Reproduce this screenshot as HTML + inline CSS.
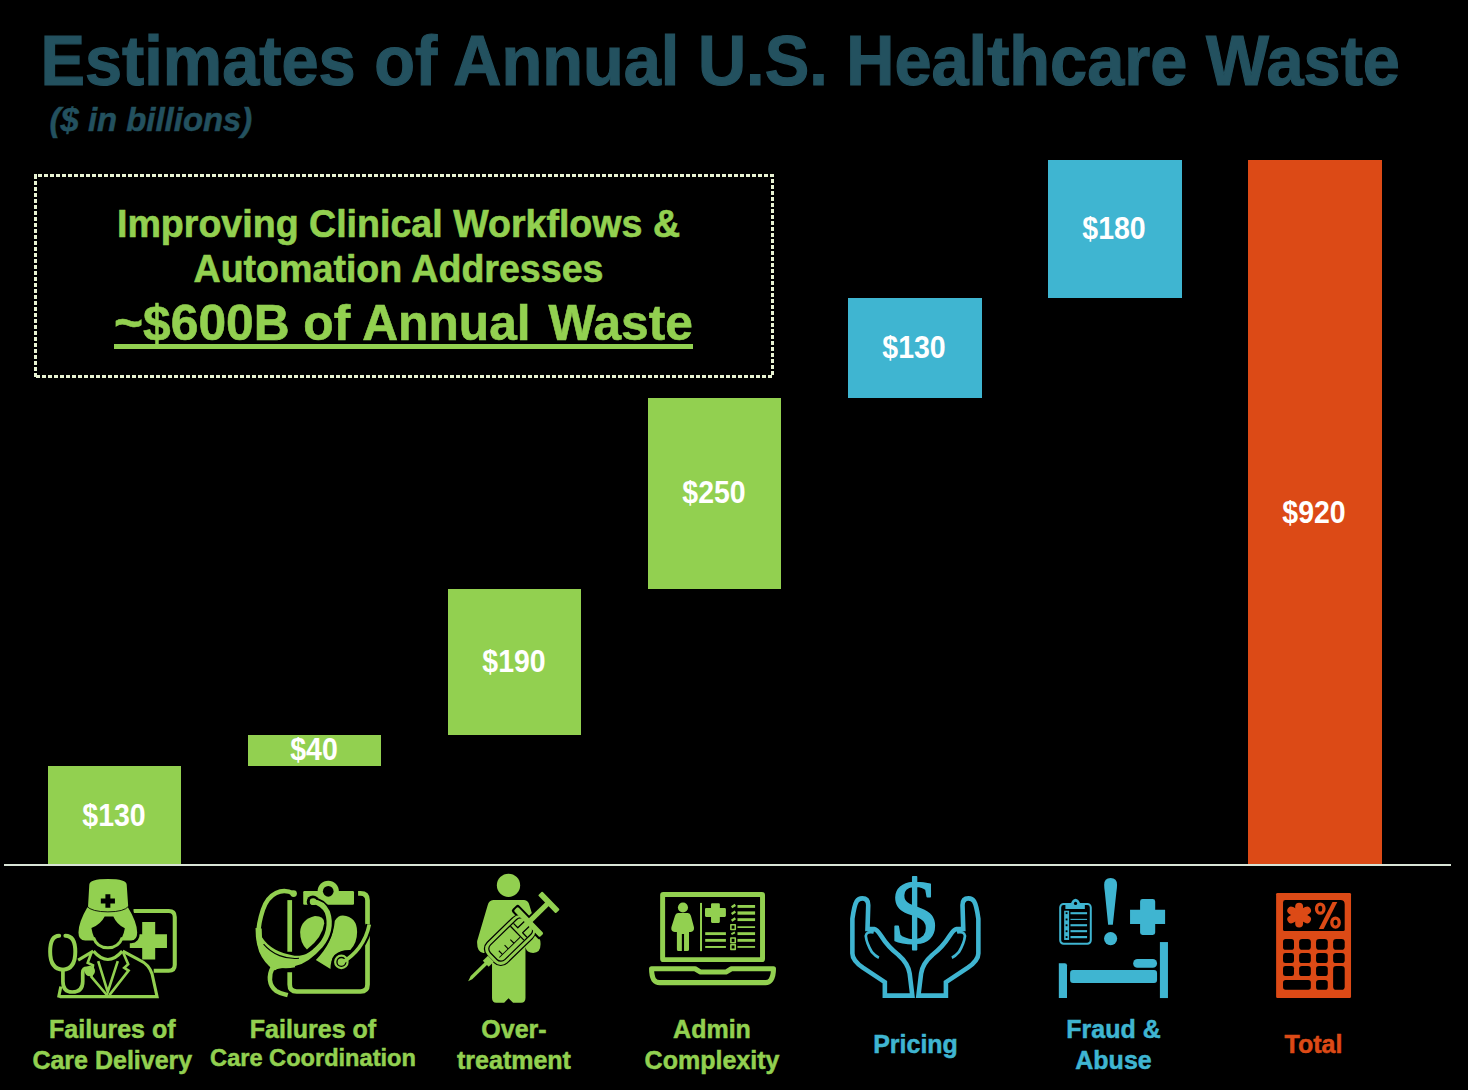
<!DOCTYPE html>
<html><head><meta charset="utf-8">
<style>
html,body{margin:0;padding:0;background:#000;}
body{width:1468px;height:1090px;position:relative;overflow:hidden;font-family:"Liberation Sans",sans-serif;font-weight:bold;}
.abs{position:absolute;white-space:nowrap;transform-origin:0 0;}
.bar{position:absolute;}
.g{background:#92d050;}
.b{background:#3fb5d1;}
.o{background:#dc4a16;}
.val{position:absolute;color:#fff;font-size:28.5px;text-align:center;width:134px;line-height:32px;height:32px;transform:scaleY(1.07);transform-origin:50% 50%;}
.lab{position:absolute;font-size:25px;line-height:29.5px;text-align:center;width:240px;white-space:nowrap;transform:scaleY(1.02);transform-origin:50% 0;}
.cg{color:#92d050;-webkit-text-stroke:0.5px #92d050;}
.cb{color:#3fb5d1;-webkit-text-stroke:0.5px #3fb5d1;}
.co{color:#dc4a16;-webkit-text-stroke:0.5px #dc4a16;}
#title{left:40.5px;top:22px;font-size:66.72px;line-height:72px;color:#23515f;-webkit-text-stroke:1.1px #23515f;transform:scaleY(1.065);}
#sub{left:49.5px;top:102.3px;font-size:32.9px;line-height:36px;color:#23515f;-webkit-text-stroke:0.5px #23515f;font-style:italic;}
.bt{-webkit-text-stroke:0.6px #92d050;position:absolute;left:29px;width:739px;text-align:center;color:#92d050;white-space:nowrap;transform-origin:50% 0;}
svg{position:absolute;overflow:visible;}
</style></head><body>
<div class="abs" id="title">Estimates of Annual U.S. Healthcare Waste</div>
<div class="abs" id="sub">($ in billions)</div>
<svg id="box" style="left:0;top:0;" width="800" height="400" shape-rendering="crispEdges">
<g stroke="#e9f3d3" stroke-width="3" fill="none">
<path d="M34 175.5H37"/><path d="M38 175.5H774" stroke-dasharray="4 2"/>
<path d="M35.5 174V179"/><path d="M35.5 181V378" stroke-dasharray="4 2"/>
<path d="M772.5 375V174" stroke-dasharray="4 2"/>
<path d="M772 376.5H34" stroke-dasharray="4 2"/>
</g></svg>
<div class="bt" style="top:199.5px;font-size:37.6px;line-height:44px;transform:scaleY(1.05);">Improving Clinical Workflows &amp;</div>
<div class="bt" style="top:245px;font-size:37.6px;line-height:44px;transform:scaleY(1.05);">Automation Addresses</div>
<div class="bt" style="left:34px;top:294.6px;font-size:49.7px;line-height:56px;white-space:pre;"><span id="l3">~$600B of Annual<span style="margin-left:4px"> </span>Waste</span></div>
<div class="bar g" style="left:114px;top:344px;width:579px;height:5px;"></div>

<div class="bar g" style="left:48px;top:766px;width:133px;height:98px;"></div>
<div class="bar g" style="left:248px;top:735px;width:133px;height:31px;"></div>
<div class="bar g" style="left:448px;top:589px;width:133px;height:146px;"></div>
<div class="bar g" style="left:648px;top:398px;width:133px;height:191px;"></div>
<div class="bar b" style="left:848px;top:298px;width:134px;height:100px;"></div>
<div class="bar b" style="left:1048px;top:160px;width:134px;height:138px;"></div>
<div class="bar o" style="left:1248px;top:160px;width:134px;height:704px;"></div>
<div class="bar" style="left:4px;top:864px;width:1447px;height:2px;background:#d9e4d6;"></div>

<div class="val" style="left:47px;top:799px;">$130</div>
<div class="val" style="left:247px;top:733px;">$40</div>
<div class="val" style="left:447px;top:645px;">$190</div>
<div class="val" style="left:647px;top:476px;">$250</div>
<div class="val" style="left:847px;top:331px;">$130</div>
<div class="val" style="left:1047px;top:212px;">$180</div>
<div class="val" style="left:1247px;top:496px;">$920</div>

<div class="lab cg" style="left:-7.7px;top:1015px;">Failures of<br>Care Delivery</div>
<div class="lab cg" style="left:193px;top:1015px;">Failures of<br><span style="font-size:23.6px;position:relative;top:-2.5px;">Care Coordination</span></div>
<div class="lab cg" style="left:394px;top:1015px;">Over-<br>treatment</div>
<div class="lab cg" style="left:592px;top:1015px;">Admin<br>Complexity</div>
<div class="lab cb" style="left:795.5px;top:1030px;">Pricing</div>
<div class="lab cb" style="left:993.5px;top:1015px;">Fraud &amp;<br>Abuse</div>
<div class="lab co" style="left:1193.5px;top:1030px;">Total</div>
<svg style="left:0;top:0" width="1468" height="1090"><g transform="translate(40,870) scale(0.12387)" fill="#92d050" stroke="none" stroke-linejoin="round">
<!-- med box -->
<path d="M755 331 H1040 Q1088 331 1088 379 V765 Q1088 813 1040 813 H918" fill="none" stroke="#92d050" stroke-width="33"/>
<path d="M825 420H930V518H1025V630H930V722H825V630H725V518H825Z"/>
<!-- coat -->
<g fill="none" stroke="#92d050" stroke-width="25" stroke-linejoin="miter">
<path d="M160 1022 H945 L905 840 Q880 760 800 725 L668 655"/>
<path d="M430 655 L308 728"/>
<path d="M150 1030 L168 940"/>
<path d="M432 655 Q548 790 664 655" stroke-width="26"/>
<path d="M470 735 L547 985 L628 735" stroke-width="21"/>
<path d="M415 668 L385 750 L428 770 L415 862 L545 1015" stroke-width="21"/>
<path d="M672 668 L712 760 L680 790 L715 812 L560 1010" stroke-width="21"/>
</g>
<!-- hair -->
<path d="M378 288 Q300 420 300 505 Q300 580 365 580 H735 Q795 580 795 505 Q795 420 714 288 Z" stroke="#000" stroke-width="21"/>
<!-- face -->
<path d="M415 468 Q490 440 522 375 H592 Q620 440 685 470 Q670 560 620 595 Q585 622 548 622 Q510 622 475 595 Q430 560 415 468Z" fill="#000"/>
<path d="M432 545 Q460 628 548 628 Q635 628 665 545" fill="none" stroke="#92d050" stroke-width="24"/>
<!-- hat -->
<path d="M398 120 Q398 72 548 72 Q700 72 700 120 L712 292 Q712 335 548 335 Q388 335 388 292 Z"/>
<path d="M376 292 Q420 338 548 338 Q680 338 716 292" fill="none" stroke="#000" stroke-width="7"/>
<path d="M528 195H568V230H605V270H568V305H528V270H491V230H528Z" fill="#000"/>
<!-- stethoscope -->
<g fill="none" stroke="#92d050" stroke-width="32" stroke-linecap="round">
<path d="M155 530 Q82 530 82 660 Q82 800 185 805 Q285 800 285 660 Q285 530 205 530"/>
<path d="M185 805 V900 Q185 985 260 985 Q345 985 345 900 V830 Q345 790 385 795" stroke-width="30"/>
</g>
<circle cx="402" cy="815" r="42"/>
</g></svg>
<svg style="left:0;top:0" width="1468" height="1090"><g transform="translate(245,870) scale(0.12387)" fill="#92d050" stroke="none" stroke-linejoin="round">
<!-- clipboard outline -->
<g fill="none" stroke="#92d050" stroke-width="38">
<path d="M361 243 V660"/>
<path d="M361 825 V925 Q361 981 417 981 H933 Q989 981 989 925 V245 Q989 189 933 189 H913"/>
</g>
<!-- clip -->
<circle cx="672" cy="172" r="86"/>
<path d="M470 180 Q470 170 480 170 H870 Q880 170 880 180 V270 Q880 280 870 280 H480 Q470 280 470 270Z"/>
<circle cx="672" cy="172" r="43" fill="#000"/>
<!-- lobes -->
<path d="M565 372 Q640 372 640 430 Q625 545 500 642 Q445 590 445 500 Q452 400 565 372Z"/>
<path d="M790 368 Q905 380 905 500 Q905 590 850 645 Q690 640 690 800 L572 726 Q710 590 725 410 Q750 368 790 368Z"/>
<!-- chest piece tube with halo -->
<path d="M790 742 C880 690 975 590 1003 440" fill="none" stroke="#000" stroke-width="62"/>
<circle cx="778" cy="742" r="78" fill="#000"/>
<path d="M790 742 C880 690 975 590 1003 440" fill="none" stroke="#92d050" stroke-width="30"/>
<circle cx="778" cy="742" r="50" fill="none" stroke="#92d050" stroke-width="18"/>
<circle cx="778" cy="742" r="30"/>
<!-- tube B with halo -->
<circle cx="548" cy="256" r="50" fill="#000"/>
<path d="M545 255 C600 260 640 290 665 340 C700 440 670 540 610 610 C540 690 470 740 400 755 C330 770 270 770 235 785" fill="none" stroke="#000" stroke-width="72"/>
<path d="M545 255 C600 260 640 290 665 340 C700 440 670 540 610 610 C540 690 470 740 400 755 C330 770 270 770 235 785" fill="none" stroke="#92d050" stroke-width="42" stroke-linecap="round"/>
<circle cx="550" cy="256" r="27"/>
<!-- tube A -->
<path d="M392 190 C300 140 190 185 145 320 C105 440 95 560 130 650 C160 720 200 760 240 790" fill="none" stroke="#92d050" stroke-width="36" stroke-linecap="round"/>
<path d="M110 470 C105 560 135 660 200 730 C260 770 330 775 400 760" fill="none" stroke="#92d050" stroke-width="50"/>
<circle cx="392" cy="190" r="27"/>
<path d="M105 470 L138 545 C190 625 280 672 400 692 C460 698 510 680 560 630 L610 610 C540 690 470 740 400 755 C330 770 270 770 235 785 C160 720 105 600 105 470Z"/>
<path d="M150 598 C220 682 330 724 436 713" fill="none" stroke="#000" stroke-width="9"/>
<!-- tail -->
<path d="M222 790 C190 850 190 930 250 975 C290 1000 320 1003 345 1010" fill="none" stroke="#92d050" stroke-width="36"/>
</g></svg>
<svg style="left:0;top:0" width="1468" height="1090"><g transform="translate(440,868) scale(0.12387)" fill="#92d050" stroke="none" stroke-linejoin="round">
<circle cx="553" cy="140" r="94"/>
<path d="M430 258 H680 Q712 260 722 300 L810 590 Q822 685 752 686 Q700 685 690 640 V1050 Q690 1088 655 1088 H590 L553 1052 L518 1088 H455 Q420 1088 420 1050 V670 Q400 690 350 686 Q295 680 300 590 L385 300 Q395 260 430 258 Z"/>
<g transform="translate(236,903) rotate(-44.2)">
<rect x="236" y="-121" width="440" height="242" rx="80" fill="#000"/>
<rect x="630" y="-166" width="78" height="332" rx="20" fill="#000"/>
<rect x="680" y="-34" width="120" height="68" fill="#000"/>
<rect x="246" y="-111" width="430" height="222" rx="70"/>
<rect x="270" y="-88" width="394" height="176" rx="50" fill="#000"/>
<rect x="280" y="-78" width="374" height="156" rx="40"/>
<path d="M300 40 H535" stroke="#000" stroke-width="8" fill="none"/>
<g stroke="#000" stroke-width="9" fill="none"><path d="M335 40 v-42"/><path d="M400 40 v-42"/><path d="M465 40 v-42"/></g>
<path d="M540 -78 v156" stroke="#000" stroke-width="10"/>
<path d="M574 -78 v50 h82" stroke="#000" stroke-width="10" fill="none"/>
<path d="M574 78 v-50 h82" stroke="#000" stroke-width="10" fill="none"/>
<rect x="646" y="-150" width="46" height="300" rx="12"/>
<rect x="690" y="-21" width="200" height="42"/>
<rect x="874" y="-102" width="46" height="204" rx="8"/>
<rect x="186" y="-34" width="58" height="68"/>
<path d="M-14 2 L30 -14 H200 V14 H20Z"/>
</g>
</g></svg>
<svg style="left:0;top:0" width="1468" height="1090"><g transform="translate(640,880) scale(0.110132)" fill="#92d050" stroke="none" stroke-linejoin="round">
<rect x="205.500" y="131" width="907" height="592" rx="6" fill="none" stroke="#92d050" stroke-width="45"/>
<!-- base -->
<path d="M105 806 H500 L550 836 H780 L830 806 H1212 Q1212 870 1190 905 Q1170 932 1140 932 H180 Q145 932 125 905 Q105 870 105 806Z" fill="none" stroke="#92d050" stroke-width="46"/>
<!-- person -->
<circle cx="390" cy="250" r="46"/>
<path d="M345 300 H435 Q455 300 462 325 L490 430 Q495 470 460 472 H445 V630 Q445 645 430 645 H400 V490 H380 V645 H350 Q335 645 335 630 V472 H315 Q278 470 285 430 L318 325 Q325 300 345 300Z"/>
<rect x="545" y="208" width="18" height="438"/>
<path d="M655 210 H715 Q725 210 725 220 V255 H770 Q780 255 780 265 V325 Q780 335 770 335 H725 V380 Q725 390 715 390 H655 Q645 390 645 380 V335 H600 Q590 335 590 325 V265 Q590 255 600 255 H645 V220 Q645 210 655 210Z"/>
<g stroke="#92d050" fill="none">
<path d="M592 487 H780" stroke-width="26"/><path d="M592 548 H780" stroke-width="26"/><path d="M592 608 H780" stroke-width="18"/>
<path d="M885 240 H1045" stroke-width="26"/><path d="M885 300 H1045" stroke-width="30"/><path d="M885 360 H1045" stroke-width="26"/>
<path d="M885 428 H1045" stroke-width="16"/><path d="M885 487 H1045" stroke-width="26"/><path d="M885 548 H1045" stroke-width="26"/><path d="M885 608 H1045" stroke-width="16"/>
<path d="M832 248 L866 226" stroke-width="22"/><path d="M832 308 L866 286" stroke-width="22"/><path d="M832 370 L866 348" stroke-width="22"/>
<path d="M830 492 L862 476" stroke-width="18"/>
<rect x="825" y="407" width="40" height="42" stroke-width="14"/>
<rect x="825" y="527" width="40" height="42" stroke-width="14"/>
<rect x="825" y="588" width="40" height="42" stroke-width="14"/>
</g>
</g></svg>
<svg style="left:0;top:0" width="1468" height="1090"><g transform="translate(840,868) scale(0.12387)" fill="none" stroke="#3fb5d1" stroke-linejoin="round">
<g id="hand5">
<path d="M362 1030 V922 L185 805 Q100 745 100 690 V410 Q115 300 135 268 Q150 245 180 245 Q228 245 228 300 L222 492 H275 Q300 497 330 545 Q390 640 470 700 Q550 770 562 850 L584 1030 Z" stroke-width="37" stroke-linejoin="miter"/>
<path d="M272 520 Q215 508 208 548 Q215 610 258 680 Q285 712 314 724" stroke-width="22"/>
</g>
<use href="#hand5" transform="translate(1217,0) scale(-1,1)"/>
<text x="0" y="0" transform="translate(414,603) scale(1.02,1)" font-family="Liberation Serif" font-weight="normal" font-size="726" fill="#3fb5d1" stroke="#3fb5d1" stroke-width="13">$</text>
</g></svg>
<svg style="left:0;top:0" width="1468" height="1090"><g transform="translate(1040,868) scale(0.12387)" fill="#3fb5d1" stroke="none" stroke-linejoin="round">
<!-- clipboard -->
<rect x="163" y="291" width="247" height="321" rx="28" fill="none" stroke="#3fb5d1" stroke-width="16"/>
<path d="M205 285 H250 Q262 250 287 248 Q312 250 324 285 H362 V330 H205Z"/>
<circle cx="287" cy="286" r="13" fill="#000"/>
<rect x="195" y="345" width="40" height="236"/>
<g fill="#000"><rect x="207" y="357" width="15" height="15"/><rect x="207" y="408" width="15" height="15"/><rect x="207" y="455" width="15" height="15"/><rect x="207" y="503" width="15" height="15"/><rect x="207" y="550" width="15" height="15"/></g>
<g stroke="#3fb5d1" fill="none"><path d="M246 365 H380" stroke-width="17"/><path d="M246 415 H380" stroke-width="9"/><path d="M246 462 H380" stroke-width="17"/><path d="M246 510 H380" stroke-width="17"/><path d="M246 558 H380" stroke-width="18"/></g>
<!-- exclamation -->
<path d="M518 135 Q518 80 570 80 Q622 80 622 135 Q622 160 616 200 L588 458 H550 L524 200 Q518 160 518 135Z"/>
<circle cx="570" cy="570" r="53"/>
<!-- cross -->
<path d="M828 250 H910 Q930 250 930 270 V338 H1010 V452 H930 V520 Q930 540 910 540 H828 Q808 540 808 520 V452 H727 V338 H808 V270 Q808 250 828 250Z"/>
<!-- bed -->
<path d="M152 768 H200 Q218 768 218 786 V1050 H152Z"/>
<rect x="968" y="598" width="65" height="452"/>
<rect x="243" y="823" width="702" height="105" rx="24"/>
<rect x="752" y="735" width="193" height="70" rx="35"/>
</g></svg>
<svg style="left:0;top:0" width="1468" height="1090"><g transform="translate(1255,880) scale(0.119284)" fill="#dc4a16" stroke="none">
<rect x="177" y="108" width="628" height="882" rx="12"/>
<path d="M255 168 H715 Q752 168 752 205 V415 Q752 428 739 428 H248 Q235 428 235 415 V188 Q235 168 255 168Z" fill="#000"/>
<g fill="#000">
<rect x="235" y="495" width="92" height="90" rx="22"/><rect x="370" y="495" width="98" height="90" rx="26"/><rect x="512" y="495" width="98" height="90" rx="26"/><rect x="655" y="495" width="97" height="90" rx="26"/>
<rect x="235" y="612" width="92" height="84" rx="20"/><rect x="370" y="612" width="98" height="84" rx="24"/><rect x="512" y="612" width="98" height="84" rx="24"/><rect x="655" y="612" width="97" height="84" rx="24"/>
<rect x="235" y="720" width="92" height="85" rx="20"/><rect x="370" y="720" width="98" height="85" rx="24"/><rect x="512" y="720" width="98" height="85" rx="24"/>
<rect x="655" y="720" width="97" height="200" rx="26"/>
<rect x="235" y="838" width="233" height="82" rx="22"/><rect x="512" y="838" width="98" height="82" rx="24"/>
</g>
<!-- asterisk -->
<g transform="translate(370,293)" stroke="#dc4a16" stroke-width="66" stroke-linecap="round"><path d="M0 -70 V72"/><path d="M-66 -37 L66 37"/><path d="M-66 37 L66 -37"/></g>
<!-- percent -->
<ellipse cx="547" cy="240" rx="31" ry="38" fill="none" stroke="#dc4a16" stroke-width="28"/>
<ellipse cx="675" cy="357" rx="31" ry="38" fill="none" stroke="#dc4a16" stroke-width="28"/>
<path d="M650 185 H690 L575 410 H535Z"/>
</g></svg>

</body></html>
